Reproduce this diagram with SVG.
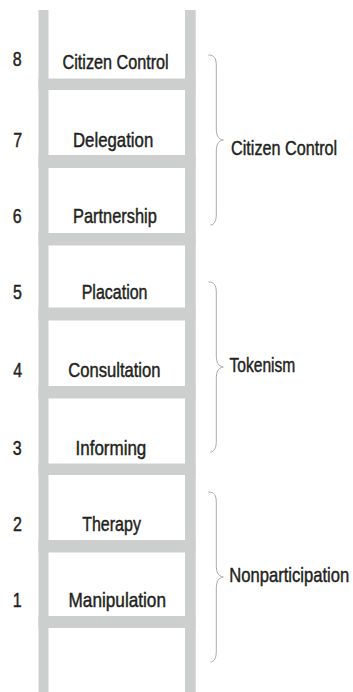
<svg xmlns="http://www.w3.org/2000/svg" width="353" height="692" viewBox="0 0 353 692">
  <style>
    .rail { fill: #cdcfce; }
    .txt { font-family: "Liberation Sans", Arial, sans-serif; font-size: 20px; fill: #231f20; stroke: #231f20; stroke-width: 0.45; }
    .num { text-anchor: middle; }
    .brace { fill: none; stroke: #a9abab; stroke-width: 1; }
  </style>
  <defs>
    <!-- curly brace, 170 tall, tip pointing right at y=85 -->
    <path id="brace" d="M0,0 C6,0 8,3 8,11 L8,73 C8,81 10,84 15,85 C10,86 8,89 8,97 L8,159 C8,166 6,170 2,170"/>
  </defs>

  <rect x="0" y="0" width="353" height="692" fill="#ffffff"/>

  <!-- ladder -->
  <g id="ladder">
    <rect class="rail" x="38.5" y="10" width="10" height="682"/>
    <rect class="rail" x="185" y="10" width="10.7" height="682"/>
    <rect class="rail" x="38.5" y="78.5" width="157" height="11.5"/>
    <rect class="rail" x="38.5" y="155" width="157" height="13"/>
    <rect class="rail" x="38.5" y="233" width="157" height="12.5"/>
    <rect class="rail" x="38.5" y="307.5" width="157" height="13"/>
    <rect class="rail" x="38.5" y="386" width="157" height="12.5"/>
    <rect class="rail" x="38.5" y="463.5" width="157" height="11.5"/>
    <rect class="rail" x="38.5" y="540" width="157" height="12.5"/>
    <rect class="rail" x="38.5" y="616" width="157" height="12"/>
  </g>

  <!-- rungs of participation (condensed via horizontal scale) -->
  <g id="rung8">
    <text class="txt num" transform="translate(17.3,66) scale(0.8,1)">8</text>
    <text class="txt" transform="translate(62.5,69) scale(0.81,1)">Citizen Control</text>
  </g>
  <g id="rung7">
    <text class="txt num" transform="translate(17.8,146.5) scale(0.8,1)">7</text>
    <text class="txt" transform="translate(73,146.5) scale(0.84,1)">Delegation</text>
  </g>
  <g id="rung6">
    <text class="txt num" transform="translate(17.3,223.3) scale(0.8,1)">6</text>
    <text class="txt" transform="translate(73,223.3) scale(0.82,1)">Partnership</text>
  </g>
  <g id="rung5">
    <text class="txt num" transform="translate(17.5,299) scale(0.8,1)">5</text>
    <text class="txt" transform="translate(81.7,299) scale(0.8,1)">Placation</text>
  </g>
  <g id="rung4">
    <text class="txt num" transform="translate(17.7,376.7) scale(0.8,1)">4</text>
    <text class="txt" transform="translate(68.3,376.7) scale(0.83,1)">Consultation</text>
  </g>
  <g id="rung3">
    <text class="txt num" transform="translate(17.2,455) scale(0.8,1)">3</text>
    <text class="txt" transform="translate(75.5,455) scale(0.85,1)">Informing</text>
  </g>
  <g id="rung2">
    <text class="txt num" transform="translate(17.5,531) scale(0.8,1)">2</text>
    <text class="txt" transform="translate(82.2,530.5) scale(0.8,1)">Therapy</text>
  </g>
  <g id="rung1">
    <text class="txt num" transform="translate(17.3,606.7) scale(0.8,1)">1</text>
    <text class="txt" transform="translate(68.5,606.7) scale(0.86,1)">Manipulation</text>
  </g>

  <!-- groupings -->
  <g id="group-citizen-control">
    <use href="#brace" class="brace" x="208.3" y="55"/>
    <text class="txt" transform="translate(231,155) scale(0.81,1)">Citizen Control</text>
  </g>
  <g id="group-tokenism">
    <use href="#brace" class="brace" x="208.3" y="282"/>
    <text class="txt" transform="translate(229.5,371.7) scale(0.78,1)">Tokenism</text>
  </g>
  <g id="group-nonparticipation">
    <use href="#brace" class="brace" x="208.3" y="492"/>
    <text class="txt" transform="translate(229.3,582) scale(0.83,1)">Nonparticipation</text>
  </g>
</svg>
